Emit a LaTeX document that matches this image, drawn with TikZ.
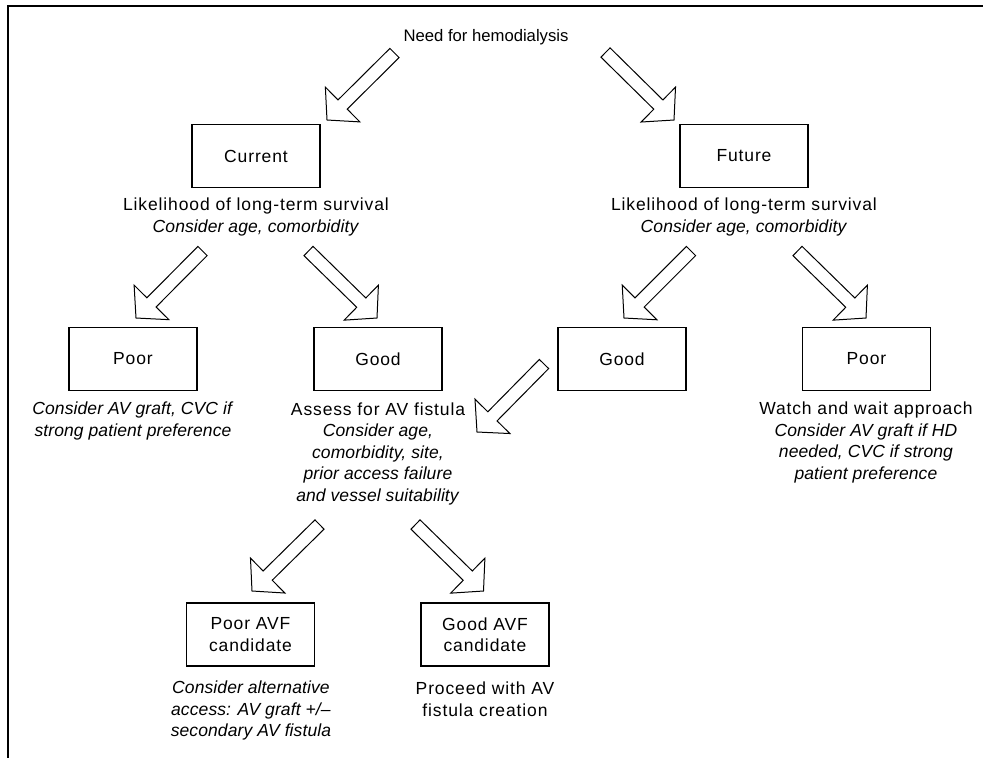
\documentclass[tikz,border=0pt]{standalone}
\usepackage{fontspec}
\setmainfont{Liberation Sans}[UprightFeatures={LetterSpace=5}, ItalicFeatures={LetterSpace=0.6}]
\newfontfamily\titlefont{Liberation Sans}
\usepackage{tikz}
\usetikzlibrary{calc}

% hollow block arrow from tail #1 to tip #2
\newcommand{\fatarrow}[2]{%
    \coordinate (#1-b) at ($(#2)!13.2pt!(#1)$);
    \draw[fat arrow] ($(#1)!3.9pt!90:(#2)$) --
        ($(#1-b)!3.9pt!90:(#2)$) --
        ($(#1-b)!14.7pt!90:(#2)$) -- (#2) --
        ($(#1-b)!14.7pt!-90:(#2)$) --
        ($(#1-b)!3.9pt!-90:(#2)$) --
        ($(#1)!3.9pt!-90:(#2)$) -- cycle;
}

\tikzset{
    box/.style={draw, line width=0.7pt, minimum width=76.8pt, minimum height=37.8pt, inner sep=0pt, align=center},
    note/.style={align=center, inner sep=0pt},
    fat arrow/.style={draw, line width=0.6pt, fill=white, line join=miter},
}

\begin{document}
\begin{tikzpicture}[x=0.6pt, y=-0.6pt, font=\fontsize{10.5}{12.9}\selectfont]
    \useasboundingbox (0,0) rectangle (983,758);
    \draw[line width=1.2pt] (983,6) -- (8,6) -- (8,758);

    \node[note, font=\titlefont\fontsize{10}{12}\selectfont] (need) at (486,37) {Need for hemodialysis};

    \node[box] (current) at (256,156) {Current};
    \node[box] (future) at (744,156) {Future};
    \node[note] (likecur) at (256,217) {Likelihood of long-term survival\\\textit{Consider age, comorbidity}};
    \node[note] (likefut) at (744,217) {Likelihood of long-term survival\\\textit{Consider age, comorbidity}};

    \node[box] (poorcur) at (133,359) {Poor};
    \node[box] (goodcur) at (378,359) {Good};
    \node[box] (goodfut) at (622,359) {Good};
    \node[box] (poorfut) at (866.5,359) {Poor};

    \node[note] (graftnote) at (133,421) {\textit{Consider AV graft, CVC if}\\\textit{strong patient preference}};
    \node[note] (assess) at (378,453.5) {Assess for AV fistula\\\textit{Consider age,}\\\textit{comorbidity, site,}\\\textit{prior access failure}\\\textit{and vessel suitability}};
    \node[note] (watch) at (866,442.5) {Watch and wait approach\\\textit{Consider AV graft if HD}\\\textit{needed, CVC if strong}\\\textit{patient preference}};

    \node[box] (pooravf) at (250.5,634.5) {Poor AVF\\candidate};
    \node[box] (goodavf) at (485,634.5) {Good AVF\\candidate};
    \node[note] (altnote) at (251,710.5) {\textit{Consider alternative}\\\textit{access: AV graft +/–}\\\textit{secondary AV fistula}};
    \node[note] (proceed) at (485,699) {Proceed with AV\\fistula creation};

    % arrow ends
    \coordinate (t1) at (394.5,53);  \coordinate (h1) at (327,120);
    \coordinate (t2) at (605.5,52.5); \coordinate (h2) at (674,120);
    \coordinate (t3) at (202.5,251); \coordinate (h3) at (136,318);
    \coordinate (t4) at (308.5,251); \coordinate (h4) at (377,318);
    \coordinate (t5) at (691,251);   \coordinate (h5) at (624,318);
    \coordinate (t6) at (797.5,251); \coordinate (h6) at (866,318);
    \coordinate (t7) at (544,364);   \coordinate (h7) at (477,432);
    \coordinate (t8) at (319.5,524.5); \coordinate (h8) at (252,591);
    \coordinate (t9) at (415.5,524.5); \coordinate (h9) at (483.5,591);

    \foreach \s/\e in {t1/h1,t2/h2,t3/h3,t4/h4,t5/h5,t6/h6,t7/h7,t8/h8,t9/h9} {\fatarrow{\s}{\e}}
\end{tikzpicture}
\end{document}
